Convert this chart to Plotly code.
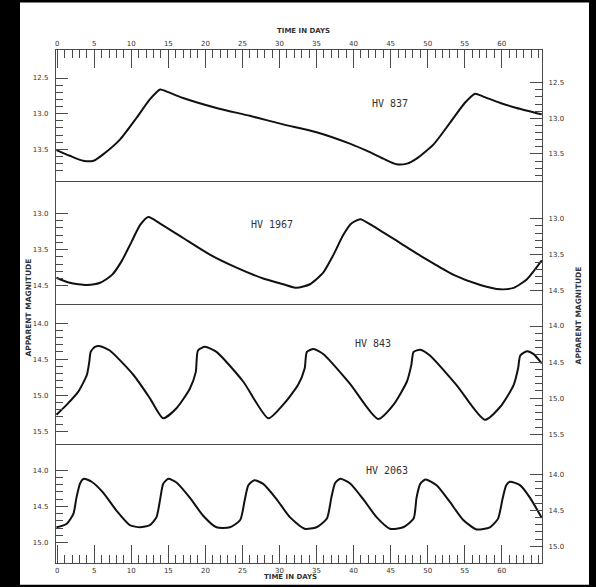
import plotly.graph_objects as go

# ---------------- data ----------------
days_837 = [-0.1, 1.7, 3.5, 4.9, 6.2, 8.5, 10.7, 12.5, 13.9, 14.8, 17.0, 21.5, 26.0, 30.5, 35.0,
            39.5, 42.2, 44.0, 45.8, 47.2, 48.5, 50.8, 53.0, 55.0, 56.4, 57.5, 59.8, 62.0, 65.4]
mag_837 = [13.51, 13.59, 13.66, 13.66, 13.57, 13.36, 13.06, 12.80, 12.66, 12.69, 12.78, 12.92, 13.03,
           13.15, 13.26, 13.42, 13.54, 13.63, 13.71, 13.70, 13.63, 13.43, 13.13, 12.85, 12.72, 12.76,
           12.85, 12.92, 13.01]

days_1967 = [-0.1, 1.7, 4.0, 5.8, 7.4, 8.7, 10.05, 11.2, 12.3, 13.9, 17.0, 20.6, 24.2, 27.8, 30.5,
             32.3, 34.1, 35.9, 37.3, 38.6, 39.7, 40.9, 42.7, 46.3, 49.9, 53.5, 57.1, 59.8, 61.6, 63.4, 65.4]
mag_1967 = [13.89, 13.96, 13.99, 13.96, 13.85, 13.66, 13.39, 13.16, 13.05, 13.14, 13.34, 13.57, 13.75,
            13.90, 13.98, 14.03, 13.98, 13.82, 13.57, 13.30, 13.14, 13.08, 13.18, 13.41, 13.64, 13.85,
            13.99, 14.05, 14.03, 13.91, 13.65]

days_843 = [-0.1, 1.3, 2.85, 4.0, 4.33, 4.52, 5.1, 5.8, 7.1, 10.3, 12.5, 14.3, 16.1, 17.9, 18.7, 19.0,
            19.95, 21.5, 25.1, 28.5, 30.5, 32.5, 33.4, 33.7, 34.6, 35.9, 39.5, 43.3, 45.4, 47.2, 47.8,
            48.1, 49.0, 50.3, 53.9, 57.7, 59.8, 61.6, 62.2, 62.5, 63.4, 64.3, 65.4]
mag_843 = [15.27, 15.13, 14.95, 14.72, 14.54, 14.40, 14.33, 14.32, 14.38, 14.72, 15.04, 15.32, 15.18,
           14.91, 14.68, 14.38, 14.33, 14.40, 14.81, 15.32, 15.13, 14.86, 14.63, 14.40, 14.36, 14.43,
           14.84, 15.33, 15.13, 14.81, 14.58, 14.40, 14.37, 14.45, 14.86, 15.34, 15.16, 14.86, 14.63,
           14.45, 14.39, 14.43, 14.56]

days_2063 = [-0.1, 1.3, 2.2, 2.6, 3.1, 3.6, 4.65, 6.2, 8.0, 9.8, 11.2, 12.5, 13.4, 13.9, 14.3, 15.0,
             16.1, 17.9, 19.7, 21.5, 23.3, 24.7, 25.3, 25.8, 26.6, 27.8, 29.6, 31.4, 33.4, 35.0, 36.4,
             37.0, 37.5, 38.2, 39.5, 41.3, 43.1, 44.9, 46.7, 48.1, 48.5, 49.0, 49.7, 51.2, 53.0, 54.8,
             56.6, 58.4, 59.5, 60.1, 60.6, 61.1, 62.5, 63.8, 65.4]
mag_2063 = [14.79, 14.74, 14.60, 14.38, 14.18, 14.12, 14.16, 14.31, 14.56, 14.76, 14.79, 14.76, 14.65,
            14.40, 14.19, 14.12, 14.17, 14.38, 14.63, 14.79, 14.79, 14.69, 14.42, 14.21, 14.14, 14.19,
            14.40, 14.65, 14.81, 14.79, 14.67, 14.38, 14.18, 14.12, 14.18, 14.40, 14.65, 14.81, 14.79,
            14.67, 14.38, 14.19, 14.13, 14.21, 14.44, 14.69, 14.82, 14.79, 14.67, 14.40, 14.21, 14.16,
            14.21, 14.38, 14.66]

star_names = ["HV 837", "HV 1967", "HV 843", "HV 2063"]
x_tick_vals = [0, 5, 10, 15, 20, 25, 30, 35, 40, 45, 50, 55, 60]
x_tick_text = ["0", "5", "10", "15", "20", "25", "30", "35", "40", "45", "50", "55", "60"]

y_major_vals = [[12.5, 13.0, 13.5], [13.0, 13.5, 14.0], [14.0, 14.5, 15.0, 15.5], [14.0, 14.5, 15.0]]
y_major_text = [["12.5", "13.0", "13.5"], ["13.0", "13.5", "14.5"],
                ["14.0", "14.5", "15.0", "15.5"], ["14.0", "14.5", "15.0"]]
y_minor_vals = [
    [12.6, 12.7, 12.8, 12.9, 13.1, 13.2, 13.3, 13.4, 13.6, 13.7, 13.8],
    [13.1, 13.2, 13.3, 13.4, 13.6, 13.7, 13.8, 13.9],
    [14.1, 14.2, 14.3, 14.4, 14.6, 14.7, 14.8, 14.9, 15.1, 15.2, 15.3, 15.4],
    [14.1, 14.2, 14.3, 14.4, 14.6, 14.7, 14.8, 14.9],
]

# ---------------- layout geometry ----------------
W, H = 596, 587
ML, MR, MT, MB = 56, 54, 50, 19
PW, PH = W - ML - MR, H - MT - MB
domains = [[0.7442, 1.0], [0.5039, 0.7442], [0.2317, 0.5039], [0.0, 0.2317]]
left_ranges = [[13.947, 12.107], [14.260, 12.555], [15.678, 13.743], [15.284, 13.640]]
right_ranges = [[13.882, 12.042], [14.187, 12.482], [15.637, 13.702], [15.229, 13.585]]
x_range = [-0.16, 65.43]

LINE_C = "#4a4a4a"
TICK_FONT = dict(family="DejaVu Sans", size=7, color="#333333")

fig = go.Figure()
series = [(days_837, mag_837), (days_1967, mag_1967), (days_843, mag_843), (days_2063, mag_2063)]
for i, (d, m) in enumerate(series):
    k = i + 1
    fig.add_trace(go.Scatter(x=d, y=m, mode="lines", xaxis=f"x{k}", yaxis=f"y{k}",
                             line=dict(color="#111111", width=2, shape="spline", smoothing=0.6),
                             showlegend=False, hoverinfo="skip"))
    fig.add_trace(go.Scatter(x=[None], y=[None], mode="lines", xaxis=f"x{k}", yaxis=f"y{k+4}",
                             showlegend=False, hoverinfo="skip"))

layout = dict(
    width=W, height=H,
    margin=dict(l=ML, r=MR, t=MT, b=MB, pad=0),
    paper_bgcolor="#000000", plot_bgcolor="#ffffff",
    showlegend=False,
)

for i in range(4):
    k = i + 1
    xa = dict(range=x_range, domain=[0, 1], anchor=f"y{k}", showgrid=False, zeroline=False,
              showline=True, mirror=(k == 1), linecolor=LINE_C, linewidth=1.3)
    if k == 1 or k == 4:
        xa.update(side="top" if k == 1 else "bottom", ticks="inside", ticklen=18, tickwidth=1.2,
                  tickcolor=LINE_C, tickmode="array", tickvals=x_tick_vals, ticktext=x_tick_text,
                  tickfont=TICK_FONT, showticklabels=True,
                  minor=dict(ticks="inside", ticklen=8, tickwidth=1.2, tickcolor=LINE_C,
                             tick0=0, dtick=1))
    else:
        xa.update(side="bottom", ticks="", showticklabels=False)
    layout[f"xaxis{k}"] = xa

    ya = dict(range=left_ranges[i], domain=domains[i], anchor=f"x{k}", side="left",
              showgrid=False, zeroline=False, showline=True, mirror=False,
              linecolor=LINE_C, linewidth=1.3,
              ticks="inside", ticklen=12, tickwidth=1.2, tickcolor=LINE_C,
              tickmode="array", tickvals=y_major_vals[i], ticktext=y_major_text[i],
              tickfont=TICK_FONT, ticklabelstandoff=5,
              minor=dict(ticks="inside", ticklen=7, tickwidth=1.2, tickcolor=LINE_C,
                         tickmode="array", tickvals=y_minor_vals[i]))
    layout[f"yaxis{k}"] = ya

    yr = dict(range=right_ranges[i], overlaying=f"y{k}", anchor=f"x{k}", side="right",
              showgrid=False, zeroline=False, showline=True,
              linecolor=LINE_C, linewidth=1.3,
              ticks="inside", ticklen=12, tickwidth=1.2, tickcolor=LINE_C,
              tickmode="array", tickvals=y_major_vals[i], ticktext=y_major_text[i],
              tickfont=TICK_FONT, ticklabelstandoff=4,
              minor=dict(ticks="inside", ticklen=7, tickwidth=1.2, tickcolor=LINE_C,
                         tickmode="array", tickvals=y_minor_vals[i]))
    layout[f"yaxis{k+4}"] = yr

fig.update_layout(**layout)

# white sheet behind the plot (black scan border outside)
def px_to_paper_x(px):
    return (px - ML) / PW

def px_to_paper_y(py):
    return (H - MB - py) / PH

fig.add_shape(type="rect", xref="paper", yref="paper", layer="below",
              x0=px_to_paper_x(20), x1=px_to_paper_x(589),
              y0=px_to_paper_y(590), y1=px_to_paper_y(2),
              fillcolor="#ffffff", line=dict(width=0))

TITLE_FONT = dict(family="DejaVu Sans", size=7, color="#333333")
AXT_FONT = dict(family="DejaVu Sans", size=7.5, color="#333333")
fig.add_annotation(text="<b>TIME IN DAYS</b>", xref="paper", yref="paper",
                   x=px_to_paper_x(303), y=px_to_paper_y(31), showarrow=False,
                   xanchor="center", yanchor="middle", font=TITLE_FONT)
fig.add_annotation(text="<b>TIME IN DAYS</b>", xref="paper", yref="paper",
                   x=px_to_paper_x(290), y=px_to_paper_y(582), showarrow=False,
                   xanchor="center", yanchor="middle", font=TITLE_FONT)
fig.add_annotation(text="<b>APPARENT MAGNITUDE</b>", xref="paper", yref="paper",
                   x=px_to_paper_x(28), y=px_to_paper_y(310), showarrow=False, textangle=-90,
                   xanchor="center", yanchor="middle", font=AXT_FONT)
fig.add_annotation(text="<b>APPARENT MAGNITUDE</b>", xref="paper", yref="paper",
                   x=px_to_paper_x(578), y=px_to_paper_y(318), showarrow=False, textangle=-90,
                   xanchor="center", yanchor="middle", font=AXT_FONT)

label_pos = [(44.9, 12.857), (29.0, 13.15), (42.6, 14.28), (44.5, 14.01)]
for i, (name, (lx, ly)) in enumerate(zip(star_names, label_pos)):
    fig.add_annotation(text=name, xref=f"x{i+1}", yref=f"y{i+1}", x=lx, y=ly, showarrow=False,
                       xanchor="center", yanchor="middle",
                       font=dict(family="DejaVu Sans Mono", size=10, color="#333333"))

fig.write_html(
    "out.html",
    config={"displayModeBar": False},
    post_script="document.body.style.margin='0';document.body.style.padding='0';"
                "document.body.style.background='#000';document.body.style.overflow='hidden';",
)
